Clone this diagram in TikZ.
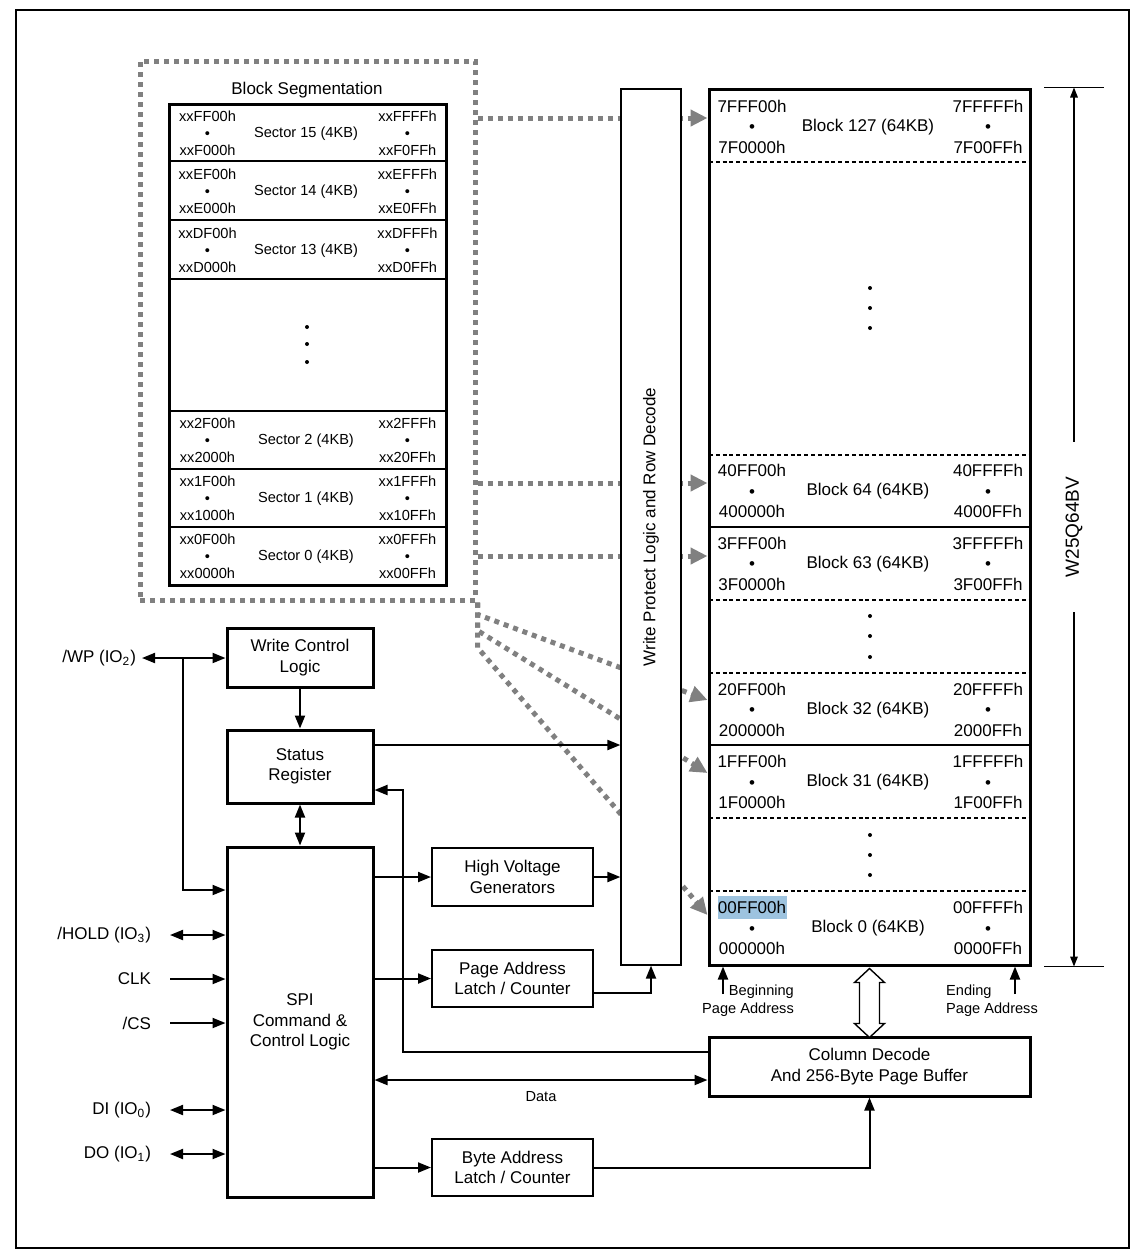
\documentclass[tikz,border=0pt]{standalone}
\usepackage{fontspec}
\setmainfont{Liberation Sans}
\usetikzlibrary{arrows.meta, positioning, backgrounds, calc}
\definecolor{dotgray}{HTML}{808080}
\definecolor{selblue}{HTML}{9DC3DF}
\tikzset{
  flash/.style={
    x=0.5pt, y=-0.5pt,
    font=\fontsize{8.5}{10.25}\selectfont,
    >={Triangle[length=6.5pt, width=5pt]},
    line width=1pt,
  },
  block/.style={draw, line width=1.5pt, align=center},
  latch/.style={block, line width=1pt},
  addr/.style={inner sep=0pt, align=center},
  secaddr/.style={addr, font=\fontsize{7.3}{8.5}\selectfont},
  seclbl/.style={inner sep=0pt, font=\fontsize{7.3}{8.5}\selectfont},
  pin/.style={anchor=east, inner ysep=0pt, inner xsep=9pt},
  note/.style={font=\fontsize{7.3}{9}\selectfont, inner sep=0pt},
  flow/.style={->},
  bus/.style={<->},
  segbox/.style={draw=dotgray, line width=2.5pt, dash pattern=on 2.5pt off 2.5pt, inner sep=0pt},
  dotflow/.style={draw=dotgray, line width=2.5pt, dash pattern=on 2.5pt off 2.5pt,
    -{Triangle[length=8.5pt, width=8pt]}},
  sepdash/.style={line width=0.6pt, dash pattern=on 2pt off 1.4pt},
  sepline/.style={line width=0.8pt},
  dimline/.style={line width=0.6pt, >={Triangle[length=5pt, width=3.8pt]}},
}
\begin{document}
\begin{tikzpicture}[flash]
  \useasboundingbox (0,0) rectangle (1146,1260);
  \draw[line width=1.3pt] (16,10) rectangle (1129,1248);

  % block segmentation
  \node[segbox, minimum width=167.5pt, minimum height=269.5pt] (seg) at (307.5,330.5) {};
  \node (segtitle) at (307,90) {Block Segmentation};
  \node[block, minimum width=138.5pt, minimum height=240.5pt] (sect) at (307.5,344.5) {};
  \draw[sepline, line width=1pt] (169,161) -- (446,161) (169,220) -- (446,220) (169,279) -- (446,279);
  \draw[sepline, line width=0.6pt] (169,411) -- (446,411) (169,469) -- (446,469) (169,527) -- (446,527);

  \node[secaddr] (s15l) at (207.5,133) {xxFF00h\\\textbullet\\xxF000h};
  \node[seclbl] (s15) at (306,133.5) {Sector 15 (4KB)};
  \node[secaddr] (s15r) at (407.5,133) {xxFFFFh\\\textbullet\\xxF0FFh};
  \node[secaddr] (s14l) at (207.5,191) {xxEF00h\\\textbullet\\xxE000h};
  \node[seclbl] (s14) at (306,191.5) {Sector 14 (4KB)};
  \node[secaddr] (s14r) at (407.5,191) {xxEFFFh\\\textbullet\\xxE0FFh};
  \node[secaddr] (s13l) at (207.5,250) {xxDF00h\\\textbullet\\xxD000h};
  \node[seclbl] (s13) at (306,250.5) {Sector 13 (4KB)};
  \node[secaddr] (s13r) at (407.5,250) {xxDFFFh\\\textbullet\\xxD0FFh};
  \fill (307,327) circle[radius=1pt] (307,344) circle[radius=1pt] (307,362) circle[radius=1pt];
  \node[secaddr] (s2l) at (207.5,440) {xx2F00h\\\textbullet\\xx2000h};
  \node[seclbl] (s2) at (306,440.5) {Sector 2 (4KB)};
  \node[secaddr] (s2r) at (407.5,440) {xx2FFFh\\\textbullet\\xx20FFh};
  \node[secaddr] (s1l) at (207.5,498) {xx1F00h\\\textbullet\\xx1000h};
  \node[seclbl] (s1) at (306,498.5) {Sector 1 (4KB)};
  \node[secaddr] (s1r) at (407.5,498) {xx1FFFh\\\textbullet\\xx10FFh};
  \node[secaddr] (s0l) at (207.5,556) {xx0F00h\\\textbullet\\xx0000h};
  \node[seclbl] (s0) at (306,556.5) {Sector 0 (4KB)};
  \node[secaddr] (s0r) at (407.5,556) {xx0FFFh\\\textbullet\\xx00FFh};

  % memory array
  \node[block, minimum width=160.5pt, minimum height=438pt] (mem) at (869.5,527) {};
  \node[draw, line width=0.6pt, fill=white, minimum width=30pt, minimum height=438pt] (wp) at (651,527) {};
  \node[rotate=90] (wplbl) at (wp.center) {Write Protect Logic and Row Decode};
  \draw[sepdash] (709,162) -- (1030,162) (709,455) -- (1030,455) (709,600) -- (1030,600)
    (709,673) -- (1030,673) (709,818) -- (1030,818) (709,891) -- (1030,891);
  \draw[sepline] (709,527) -- (1030,527) (709,745) -- (1030,745);

  \node[addr] (b127l) at (752,126.5) {7FFF00h\\\textbullet\\7F0000h};
  \node (b127) at (868,127) {Block 127 (64KB)};
  \node[addr] (b127r) at (988,126.5) {7FFFFFh\\\textbullet\\7F00FFh};
  \fill (870,288) circle[radius=1pt] (870,308) circle[radius=1pt] (870,328) circle[radius=1pt];
  \node[addr] (b64l) at (752,491) {40FF00h\\\textbullet\\400000h};
  \node (b64) at (868,491.5) {Block 64 (64KB)};
  \node[addr] (b64r) at (988,491) {40FFFFh\\\textbullet\\4000FFh};
  \node[addr] (b63l) at (752,563.5) {3FFF00h\\\textbullet\\3F0000h};
  \node (b63) at (868,564) {Block 63 (64KB)};
  \node[addr] (b63r) at (988,563.5) {3FFFFFh\\\textbullet\\3F00FFh};
  \fill (870,616) circle[radius=1pt] (870,636) circle[radius=1pt] (870,657) circle[radius=1pt];
  \node[addr] (b32l) at (752,709.5) {20FF00h\\\textbullet\\200000h};
  \node (b32) at (868,710) {Block 32 (64KB)};
  \node[addr] (b32r) at (988,709.5) {20FFFFh\\\textbullet\\2000FFh};
  \node[addr] (b31l) at (752,782) {1FFF00h\\\textbullet\\1F0000h};
  \node (b31) at (868,782.5) {Block 31 (64KB)};
  \node[addr] (b31r) at (988,782) {1FFFFFh\\\textbullet\\1F00FFh};
  \fill (870,835) circle[radius=1pt] (870,855) circle[radius=1pt] (870,875) circle[radius=1pt];
  \fill[selblue] (718,896) rectangle (787,919);
  \node[addr] (b0l) at (752,928) {00FF00h\\\textbullet\\000000h};
  \node (b0) at (868,928.5) {Block 0 (64KB)};
  \node[addr] (b0r) at (988,928) {00FFFFh\\\textbullet\\0000FFh};

  \node[rotate=90, font=\fontsize{9.5}{11}\selectfont, inner xsep=17pt, inner ysep=1pt] (chip) at (1074,527) {W25Q64BV};
  \draw[dimline] ($(chip |- mem.north)+(-30,0)$) -- ++(60,0);
  \draw[dimline] ($(chip |- mem.south)+(-30,0)$) -- ++(60,0);
  \draw[dimline, ->] (chip) -- (chip |- mem.north);
  \draw[dimline, ->] (chip) -- (chip |- mem.south);

  \node[note, align=right] (begpa) at (748,1001) {Beginning\\Page Address};
  \node[note, align=left] (endpa) at (992,1001) {Ending\\Page Address};
  \coordinate (begtap) at (723,994);
  \coordinate (endtap) at (1015,994);
  \draw[flow] (begtap) -- (begtap |- mem.south);
  \draw[flow] (endtap) -- (endtap |- mem.south);

  % control side
  \node[block, minimum width=73pt, minimum height=29.5pt] (wcl) at (300,657.5) {Write Control\\Logic};
  \node[block, minimum width=73pt, minimum height=36.5pt] (sr) at (300,766.5) {Status\\Register};
  \node[block, minimum width=73pt, minimum height=175pt] (spi) at (300,1022) {SPI\\Command \&\\Control Logic};
  \node[latch, minimum width=80.5pt, minimum height=29pt] (hv) at (512.5,877) {High Voltage\\Generators};
  \node[latch, minimum width=80.5pt, minimum height=28.5pt] (pal) at (512.5,978.5) {Page Address\\Latch / Counter};
  \node[latch, minimum width=80.5pt, minimum height=28.5pt] (bal) at (512.5,1167.5) {Byte Address\\Latch / Counter};
  \node[block, minimum width=160.5pt, minimum height=29.5pt] (coldec) at (869.5,1066.5) {Column Decode\\And 256-Byte Page Buffer};

  \node[pin, inner xsep=2.5pt] (wppin) at (142,658) {/WP (IO\textsubscript{2})};
  \node[pin] (hold) at (170,935) {/HOLD (IO\textsubscript{3})};
  \node[pin] (clk) at (170,979) {CLK};
  \node[pin] (cs) at (170,1023) {/CS};
  \node[pin] (din) at (170,1110) {DI (IO\textsubscript{0})};
  \node[pin] (dout) at (170,1154) {DO (IO\textsubscript{1})};

  \coordinate (wptap) at (183,658);
  \draw[bus] (wppin.east) -- (wppin.east -| wcl.west);
  \draw[flow] (wptap) |- (spi.west |- 0,890);
  \draw[bus] (hold.east) -- (hold.east -| spi.west);
  \draw[flow] (clk.east) -- (clk.east -| spi.west);
  \draw[flow] (cs.east) -- (cs.east -| spi.west);
  \draw[bus] (din.east) -- (din.east -| spi.west);
  \draw[bus] (dout.east) -- (dout.east -| spi.west);

  \draw[flow] (wcl) -- (sr);
  \draw[bus] (sr) -- (spi);
  \draw[flow] (sr.east |- 0,745) -- (wp.west |- 0,745);
  \draw[flow] (coldec.west |- 0,1052) -- (403,1052) |- (sr.east |- 0,790);
  \draw[bus] (spi.east |- 0,1080) -- node[note, below=5.4pt] {Data} (coldec.west |- 0,1080);
  \draw[flow] (spi.east |- hv) -- (hv);
  \draw[flow] (hv) -- (hv -| wp.west);
  \draw[flow] (spi.east |- pal) -- (pal);
  \draw[flow] (pal.east |- 0,993) -| (wp.south);
  \draw[flow] (spi.east |- bal) -- (bal);
  \draw[flow] (bal) -| (coldec);
  \draw[line width=0.7pt, fill=white] ($(mem.south)+(0,2)$) -- ++(15,14) -- ++(-5,0) -- ++(0,41) -- ++(5,0)
    -- ++(-15,14) -- ++(-15,-14) -- ++(5,0) -- ++(0,-41) -- ++(-5,0) -- cycle;

  \begin{scope}[on background layer]
    \draw[dotflow] (seg.east |- 0,118) -- (mem.west |- 0,118);
    \draw[dotflow] (seg.east |- 0,483) -- (mem.west |- 0,483);
    \draw[dotflow] (seg.east |- 0,556) -- (mem.west |- 0,556);
    \draw[dotflow] (seg.south east) -- ++(0,12) -- (mem.west |- 0,700);
    \draw[dotflow] (seg.south east) -- ++(0,28) -- (mem.west |- 0,773);
    \draw[dotflow] (seg.south east) -- ++(0,45) -- (mem.west |- 0,915);
  \end{scope}
\end{tikzpicture}
\end{document}
